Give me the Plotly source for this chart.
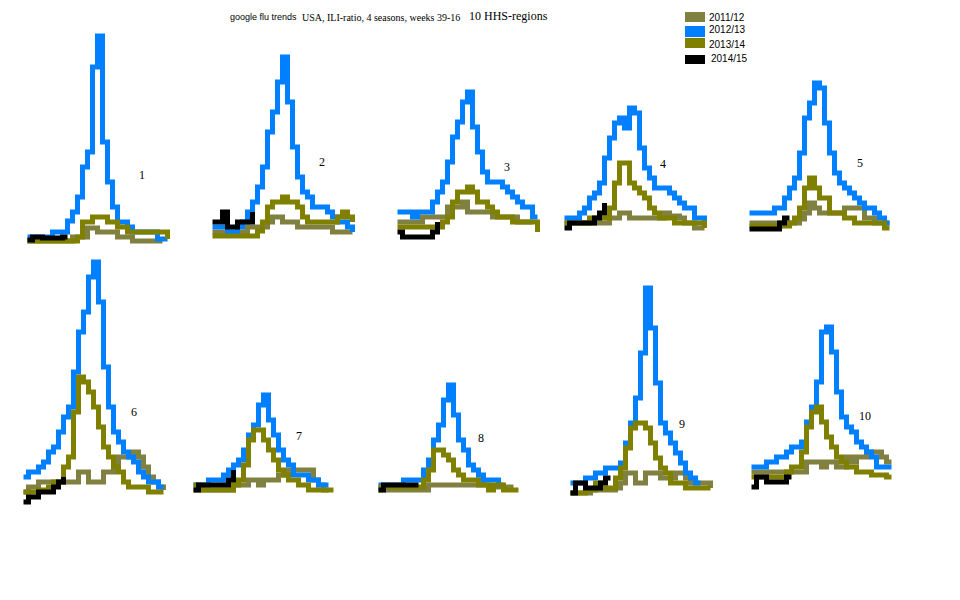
import plotly.graph_objects as go

# ----------------------------------------
#  google flu trends, 10 HHS regions
# ----------------------------------------

W, H = 960, 600
OFF = 8  # the page body margin pushes the plot 8px right/down, so pull everything back

weeks = list(range(39, 53)) + list(range(1, 17))
seasons = ["2011/12", "2012/13", "2013/14", "2014/15"]
colors = ["#808040", "#0080ff", "#808000", "#000000"]
regions = ["1", "2", "3", "4", "5", "6", "7", "8", "9", "10"]

# ILI-ratio per week (index 0 = week 39), one list per region
s2011_12 = [
    [1, 1, 1, 1, 1, 1, 1, 1, 1, 5, 5, 5, 14, 14, 10, 10, 10, 10, 5, 5, 5, 1, 1, 1, 1, 1, 1, 1],
    [4, 4, 4, 4, 4, 4, 4, 9, 9, 9, 9, 14, 19, 19, 14, 14, 14, 9, 9, 9, 9, 9, 9, 9, 4, 4, 4, 4, 4],
    [15, 15, 15, 15, 15, 20, 20, 20, 20, 20, 30, 30, 30, 35, 25, 25, 25, 25, 25, 20, 20, 20, 20, 20, 15, 15, 15, 15],
    [5, 5, 5, 5, 5, 5, 5, 5, 5, 10, 10, 15, 15, 10, 10, 10, 10, 10, 10, 10, 15, 12, 12, 10, 5, 5, 0, 0, 0],
    [6, 6, 6, 6, 6, 6, 6, 6, 6, 6, 10, 16, 26, 21, 16, 16, 16, 16, 16, 21, 21, 21, 21, 11, 11, 6, 6, 6, 6],
    [10, 15, 15, 20, 20, 20, 20, 20, 20, 20, 20, 30, 30, 20, 20, 20, 30, 30, 35, 45, 45, 45, 50, 45, 35, 25, 20, 15, 12],
    [0, 0, 0, 0, 0, 0, 0, 0, 5, 5, 5, 10, 10, 5, 10, 10, 10, 15, 15, 20, 20, 20, 20, 20, 10, 5, 0, 0],
    [0, 0, 0, 0, 0, 0, 0, 0, 0, 0, 5, 5, 5, 5, 5, 5, 5, 5, 5, 5, 10, 5, 3, 3, 3, 3, 3, 3],
    [0, 0, 0, 0, 3, 3, 3, 3, 3, 5, 10, 20, 20, 10, 10, 20, 20, 20, 15, 15, 15, 20, 20, 15, 10, 10, 10, 10, 5],
    [15, 15, 15, 15, 15, 15, 15, 15, 15, 15, 15, 25, 25, 25, 20, 25, 25, 20, 20, 30, 25, 30, 30, 35, 35, 35, 30, 25, 25],
]

s2012_13 = [
    [5, 5, 5, 5, 5, 10, 10, 10, 21, 30, 45, 75, 90, 175, 206, 100, 60, 35, 20, 20, 15, 10, 10, 10, 10, 10, 3, 3, 3],
    [9, 9, 9, 4, 4, 9, 14, 24, 34, 49, 69, 104, 124, 154, 179, 134, 89, 59, 44, 39, 29, 29, 29, 24, 19, 14, 14, 9, 4],
    [25, 25, 25, 20, 25, 25, 25, 35, 45, 55, 75, 100, 115, 135, 145, 110, 85, 65, 55, 55, 55, 50, 45, 40, 35, 30, 30, 20, 20],
    [10, 10, 10, 15, 20, 30, 35, 45, 70, 90, 105, 110, 100, 120, 115, 80, 60, 50, 40, 40, 40, 35, 30, 25, 20, 20, 10, 10, 5],
    [16, 16, 16, 16, 16, 21, 21, 31, 41, 51, 76, 111, 126, 146, 141, 106, 76, 56, 46, 41, 36, 31, 26, 21, 21, 16, 11, 6, 6],
    [25, 30, 30, 35, 40, 50, 55, 70, 85, 95, 130, 170, 190, 225, 240, 200, 135, 95, 70, 60, 50, 45, 40, 30, 25, 20, 20, 15, 15],
    [5, 5, 5, 10, 10, 10, 15, 20, 25, 30, 40, 55, 65, 85, 95, 70, 55, 40, 30, 25, 15, 15, 15, 10, 10, 5, 5, 5],
    [5, 5, 5, 5, 5, 10, 10, 10, 10, 20, 30, 50, 65, 90, 105, 75, 50, 40, 25, 20, 15, 10, 10, 10, 5, 5],
    [10, 10, 10, 15, 15, 20, 20, 25, 25, 25, 30, 50, 70, 95, 140, 205, 165, 110, 70, 60, 50, 40, 30, 20, 15, 10, 10],
    [20, 20, 20, 25, 25, 30, 30, 35, 40, 40, 45, 65, 80, 105, 155, 160, 135, 95, 70, 60, 55, 45, 40, 35, 30, 20, 20, 20, 20],
]

s2013_14 = [
    [1, 1, 1, 1, 1, 1, 1, 1, 1, 1, 5, 20, 20, 25, 25, 25, 20, 20, 15, 15, 10, 10, 10, 10, 10, 10, 10, 10, 3],
    [0, 0, 0, 0, 0, 0, 0, 0, 0, 5, 14, 29, 34, 34, 39, 34, 34, 29, 19, 14, 14, 14, 14, 14, 14, 19, 24, 19, 14],
    [10, 10, 10, 10, 10, 10, 10, 10, 10, 15, 20, 35, 45, 45, 50, 45, 35, 35, 30, 25, 20, 20, 20, 15, 15, 15, 15, 15, 5],
    [5, 5, 5, 5, 5, 10, 10, 10, 10, 20, 45, 65, 65, 45, 40, 35, 30, 20, 15, 10, 10, 10, 5, 5, 5, 5, 5, 5, 0],
    [3, 3, 3, 3, 3, 3, 3, 3, 6, 11, 21, 41, 51, 41, 31, 31, 16, 16, 16, 11, 11, 6, 6, 6, 6, 6, 6, 1, 1],
    [10, 10, 10, 12, 12, 15, 20, 20, 35, 45, 90, 125, 120, 110, 95, 75, 55, 45, 35, 30, 20, 15, 15, 15, 15, 10, 10, 10, 10],
    [5, 2, 0, 0, 0, 0, 0, 0, 5, 10, 25, 50, 60, 60, 50, 40, 30, 20, 15, 10, 10, 5, 5, 0, 0, 0, 0, 0, 0],
    [3, 3, 3, 3, 3, 3, 3, 3, 3, 10, 20, 40, 40, 35, 30, 20, 15, 10, 10, 10, 5, 5, 0, 5, 5, 0, 0, 0, 0],
    [0, 0, 0, 3, 3, 10, 5, 5, 5, 15, 25, 45, 65, 70, 70, 65, 50, 35, 25, 20, 10, 10, 10, 5, 5, 5, 5, 5, 5],
    [10, 10, 10, 10, 10, 10, 10, 15, 20, 20, 35, 60, 75, 80, 65, 50, 40, 30, 25, 20, 20, 15, 15, 15, 12, 12, 12, 10, 10],
]

s2014_15 = [
    [2, 5, 5, 4, 4, 4, 4, 5, 5],
    [14, 14, 24, 9, 9, 14, 14, 14, 24],
    [5, 0, 0, 0, 0, 0, 0, 5, 15],
    [0, 5, 5, 5, 5, 5, 10, 15, 25],
    [0, 0, 0, 0, 0, 0, 6, 11, 11],
    [0, 5, 5, 10, 10, 10, 15, 20, 25],
    [0, 5, 5, 5, 5, 5, 5, 10, 20],
    [0, 5, 5, 5, 5, 5, 5, 5, 5],
    [0, 10, 10, 5, 5, 5, 10, 15, 15],
    [0, 10, 10, 5, 5, 5, 5, 10, 10],
]

all_seasons = [s2011_12, s2012_13, s2013_14, s2014_15]

# where each small panel sits on the page (pixels): left edge, baseline
panel_left = [25, 210, 395, 562, 747, 21, 191, 376, 568, 749]
panel_base = [242, 236, 237, 228, 229, 502, 490, 490, 493, 487]
label_xy = [(142, 175), (322, 162), (507, 167), (663, 164), (860, 163),
            (134, 412), (299, 436), (481, 438), (682, 424), (865, 416)]


def px(x):
    return (x - OFF) / W


def py(y):
    return 1 - (y - OFF) / H


def text_at(x, y, txt, family, size, anchor="left"):
    fig.add_annotation(x=px(x), y=py(y), xref="paper", yref="paper", text=txt,
                       xanchor=anchor, yanchor="middle", showarrow=False,
                       font=dict(family=family, size=size, color="black"))


fig = go.Figure()
layout = {}

for i, reg in enumerate(regions):
    n = i + 1
    sfx = "" if n == 1 else str(n)
    left = panel_left[i] - 2.5     # lines drawn with butt caps, so widen by half a stroke
    base = panel_base[i] - OFF
    top = base - 5 if i < 5 else 250   # 1 unit = 1 px
    layout["xaxis" + sfx] = dict(domain=[px(left), px(left + 155)], range=[-1, 30],
                                 visible=False, anchor="y" + sfx, fixedrange=True)
    layout["yaxis" + sfx] = dict(domain=[(H - base - 10) / H, (H - base + top) / H], range=[-10, top],
                                 visible=False, anchor="x" + sfx, fixedrange=True)
    for s, season in enumerate(seasons):
        vals = all_seasons[s][i]
        fig.add_trace(go.Scatter(
            x=list(range(len(vals))), y=vals, mode="lines",
            line=dict(color=colors[s], width=5, shape="hv"),
            xaxis="x" + sfx, yaxis="y" + sfx, showlegend=False,
            name=season, text=[f"week {w}" for w in weeks[:len(vals)]],
            hovertemplate="region " + reg + ", %{text}: %{y}<extra>" + season + "</extra>"))
    lx, ly = label_xy[i]
    text_at(lx, ly, reg, "Liberation Serif", 12, anchor="center")

# title line
text_at(228, 17, "google flu trends", "Liberation Sans", 9)
text_at(300, 17, "USA, ILI-ratio, 4 seasons, weeks 39-16", "Liberation Serif", 10)
text_at(467, 16, "10 HHS-regions", "Liberation Serif", 12)

# hand-made legend: coloured squares + season labels
leg_y = [(12, 22, 17), (26, 37, 30), (38, 48, 44), (55, 64, 58)]
for s, season in enumerate(seasons):
    y0, y1, yt = leg_y[s]
    fig.add_shape(type="rect", xref="paper", yref="paper",
                  x0=px(685), x1=px(705), y0=py(y1), y1=py(y0),
                  fillcolor=colors[s], line=dict(width=0))
    text_at(707 if s < 3 else 709, yt, season, "Liberation Sans", 10)

fig.update_layout(width=W, height=H, margin=dict(l=0, r=0, t=0, b=0),
                  paper_bgcolor="white", plot_bgcolor="white", **layout)
fig.write_html("out.html")
